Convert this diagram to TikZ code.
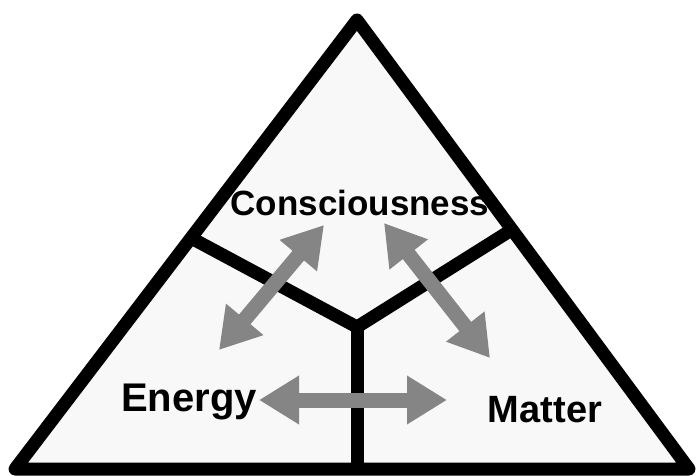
\documentclass[tikz,border=0pt]{standalone}
\usepackage{fontspec}
\setmainfont{Liberation Sans}
\usetikzlibrary{arrows.meta}
\definecolor{arrowgray}{HTML}{858585}
\definecolor{panelfill}{HTML}{F8F8F8}
\tikzset{
  outline/.style={draw=black, line width=13pt, line join=round, fill=panelfill},
  divider/.style={draw=black, line width=13pt, line join=round},
  twoway/.style={draw=arrowgray, line width=15pt,
     {Triangle[width=46pt,length=40pt]}-{Triangle[width=46pt,length=40pt]}},
  label/.style={font=\bfseries, inner sep=0pt, anchor=base}
}
\begin{document}
\begin{tikzpicture}[x=1pt,y=-1pt]
\useasboundingbox (0,0) rectangle (697,476);
\fill[white] (0,0) rectangle (697,476);
% triangle corners
\coordinate (top) at (357,20);
\coordinate (bl) at (15,469);
\coordinate (br) at (689,469);
\draw[outline] (top) -- (bl) -- (br) -- cycle;
% dividers
\coordinate (hub) at (357,327);
\coordinate (lm) at (193,239);
\coordinate (rm) at (513,229);
\coordinate (bm) at (357,469);
\draw[divider] (lm) -- (hub) -- (rm);
\draw[divider] (hub) -- (bm);
% labels
\node[label, font=\bfseries\fontsize{35}{40}\selectfont] (cons) at (360,216) {Consciousness};
\node[label, font=\bfseries\fontsize{40}{46}\selectfont] (energy) at (189,411) {Energy};
\node[label, font=\bfseries\fontsize{38}{44}\selectfont] (matter) at (545,422) {Matter};
% arrow ends
\coordinate (a1s) at (219,350);
\coordinate (a1e) at (324,225);
\coordinate (a2s) at (384,223);
\coordinate (a2e) at (490,358);
\coordinate (a3s) at (259,400);
\coordinate (a3e) at (447,400);
\draw[twoway] (a1s) -- (a1e);
\draw[twoway] (a2s) -- (a2e);
\draw[twoway] (a3s) -- (a3e);
\end{tikzpicture}
\end{document}
